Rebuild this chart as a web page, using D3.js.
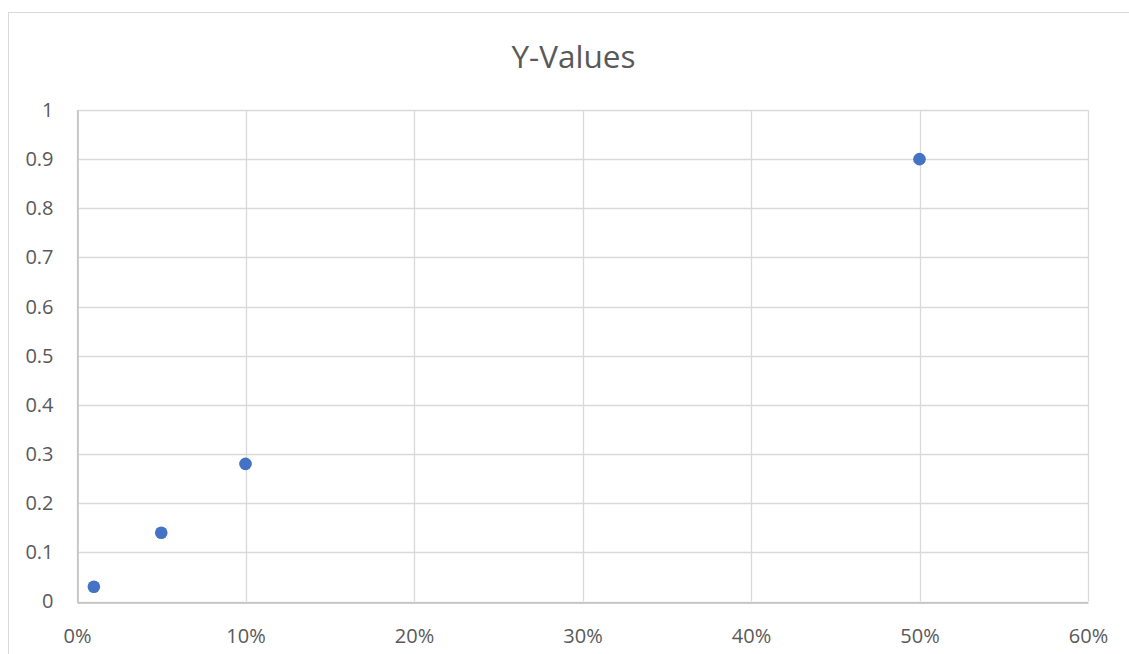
<!DOCTYPE html>
<html>
<head>
<meta charset="utf-8">
<script src="https://cdn.jsdelivr.net/npm/d3@7"></script>
<style>
  html, body { margin: 0; padding: 0; background: #fff; }
  svg { display: block; }
  text { font-family: "Open Sans", "Noto Sans", "Liberation Sans", sans-serif; fill: #595959; }
</style>
</head>
<body>
<svg id="chart" width="1129" height="654"></svg>
<script>
const title = "Y-Values";
const xValues = [0.01, 0.05, 0.10, 0.50];
const yValues = [0.03, 0.14, 0.28, 0.90];
const xTicks = [0, 0.1, 0.2, 0.3, 0.4, 0.5, 0.6];
const yTicks = [0, 0.1, 0.2, 0.3, 0.4, 0.5, 0.6, 0.7, 0.8, 0.9, 1];

const svg = d3.select("#chart");
const W = 1129, H = 654;
const plot = { left: 77, top: 110, right: 1088, bottom: 601.5 };
const tickFont = 20;

// outer chart frame
svg.append("rect")
  .attr("x", 8.5).attr("y", 12.5)
  .attr("width", W + 20).attr("height", H + 20)
  .attr("fill", "#fff").attr("stroke", "#d9d9d9").attr("stroke-width", 1);

const x = d3.scaleLinear().domain([0, 0.6]).range([plot.left, plot.right]);
const y = d3.scaleLinear().domain([0, 1]).range([plot.bottom, plot.top]);

// gridlines
svg.append("g").selectAll("line.h").data(yTicks).join("line")
  .attr("x1", plot.left).attr("x2", plot.right)
  .attr("y1", d => Math.round(y(d)) + 0.5).attr("y2", d => Math.round(y(d)) + 0.5)
  .attr("stroke", "#d9d9d9").attr("stroke-width", 1.3);
svg.append("g").selectAll("line.v").data(xTicks).join("line")
  .attr("y1", plot.top).attr("y2", plot.bottom)
  .attr("x1", d => Math.round(x(d)) + 0.5).attr("x2", d => Math.round(x(d)) + 0.5)
  .attr("stroke", "#d9d9d9").attr("stroke-width", 1.3);

// axes
const xAxis = d3.axisBottom(x).tickValues(xTicks).tickFormat(d3.format(".0%")).tickSize(0).tickPadding(26);
const yAxis = d3.axisLeft(y).tickValues(yTicks).tickFormat(d => d3.format("")(d)).tickSize(0).tickPadding(24);

const gx = svg.append("g").attr("transform", `translate(0,${Math.round(plot.bottom) + 0.5})`).call(xAxis);
gx.attr("font-size", tickFont);
gx.select(".domain").attr("stroke", "#bfbfbf").attr("stroke-width", 1.5);
gx.selectAll("text").attr("font-size", tickFont).attr("fill", "#595959");

const gy = svg.append("g").attr("transform", `translate(${plot.left + 0.5},0)`).call(yAxis);
gy.attr("font-size", tickFont);
gy.select(".domain").attr("stroke", "#bfbfbf").attr("stroke-width", 1.5);
gy.selectAll("text").attr("font-size", tickFont).attr("fill", "#595959");

// title
svg.append("text")
  .attr("x", 573.5).attr("y", 67.5)
  .attr("text-anchor", "middle")
  .attr("font-size", 31.5).text(title);

// points
svg.append("g").selectAll("circle").data(xValues.map((v, i) => [v, yValues[i]])).join("circle")
  .attr("cx", d => x(d[0])).attr("cy", d => y(d[1]))
  .attr("r", 6.3).attr("fill", "#4472C4");
</script>
</body>
</html>
